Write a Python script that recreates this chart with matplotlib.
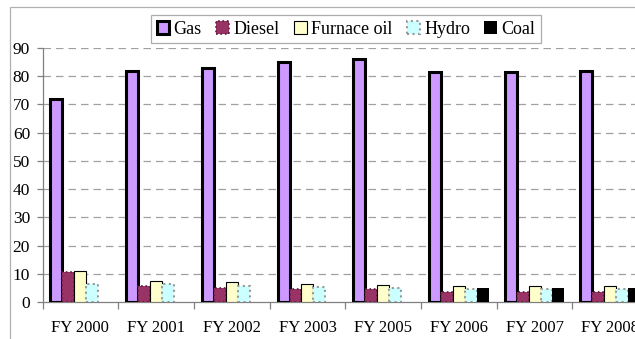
import matplotlib
matplotlib.use("Agg")
import matplotlib.pyplot as plt
from matplotlib.patches import Rectangle
import numpy as np

years = ["FY 2000", "FY 2001", "FY 2002", "FY 2003", "FY 2005", "FY 2006", "FY 2007", "FY 2008"]
gas = [72, 82, 83, 85, 86, 81.5, 81.5, 82]
diesel = [10.5, 5.5, 5, 4.5, 4.5, 3.5, 3.5, 3.5]
furnace_oil = [11, 7.5, 7, 6.5, 6, 5.5, 5.5, 5.5]
hydro = [6.5, 6.5, 5.5, 5.2, 5, 4.5, 4.5, 4.5]
coal = [0, 0, 0, 0, 0, 5, 5, 5]
y_ticks = [0, 10, 20, 30, 40, 50, 60, 70, 80, 90]

FONT = "Liberation Serif"
plt.rcParams["font.family"] = "serif"
plt.rcParams["font.serif"] = [FONT, "DejaVu Serif"]

W, H = 635, 339
fig = plt.figure(figsize=(W / 100, H / 100), dpi=100)
fig.patch.set_facecolor("white")

# chart-area border
fig.patches.append(Rectangle((10 / W, -0.5), 2, 1.5 - 7 / H, transform=fig.transFigure,
                             fill=False, edgecolor="#b0b0b0", linewidth=0.9))

ax = fig.add_axes([42.5 / W, 37 / H, 605.6 / W, 254 / H])

x = np.arange(len(years))
bw = 0.158
styles = [
    (gas, "Gas", dict(color="#cc99ff", edgecolor="black", linewidth=2.2)),
    (diesel, "Diesel", dict(color="#993366", edgecolor="#5a1a3a", linewidth=1.2, linestyle=":")),
    (furnace_oil, "Furnace oil", dict(color="#ffffcc", edgecolor="black", linewidth=0.8)),
    (hydro, "Hydro", dict(color="#ccffff", edgecolor="#999999", linewidth=1.5, linestyle=":")),
    (coal, "Coal", dict(color="black", edgecolor="black", linewidth=0.0)),
]
handles = []
for k, (vals, name, kw) in enumerate(styles):
    b = ax.bar(x + (k - 2) * bw, vals, width=bw, label=name, zorder=3, **kw)
    handles.append(b)

ax.set_xlim(-0.5, len(years) - 0.5)
ax.set_ylim(0, 90)
ax.set_yticks(y_ticks)
ax.set_yticklabels([str(v) for v in y_ticks], family=FONT, fontsize=12.5)
ax.set_xticks(x)
ax.set_xticklabels(years, family=FONT, fontsize=12)
ax.set_xticks(np.arange(len(years) + 1) - 0.5, minor=True)
ax.tick_params(axis="x", which="major", length=0, pad=13)
ax.tick_params(axis="x", which="minor", length=5, color="#808080", width=0.9)
ax.tick_params(axis="y", length=4, color="#808080", width=0.9, pad=5)

for v in y_ticks[1:]:
    ax.axhline(v, color="#a0a0a0", linestyle=(0, (6, 4)), linewidth=0.9, zorder=1)

for s in ["top", "right"]:
    ax.spines[s].set_visible(False)
for s in ["left", "bottom"]:
    ax.spines[s].set_color("#808080")
    ax.spines[s].set_linewidth(0.9)

leg = fig.legend(handles=handles, loc="center", bbox_to_anchor=(346 / W, 1 - 29 / H),
                 ncol=5, prop={"family": FONT, "size": 13}, frameon=True, fancybox=False,
                 handlelength=0.7, handleheight=0.7, handletextpad=0.25, columnspacing=0.8,
                 borderpad=0.3, edgecolor="#999999")
leg.get_frame().set_linewidth(0.9)

fig.savefig("out.png", dpi=100)
